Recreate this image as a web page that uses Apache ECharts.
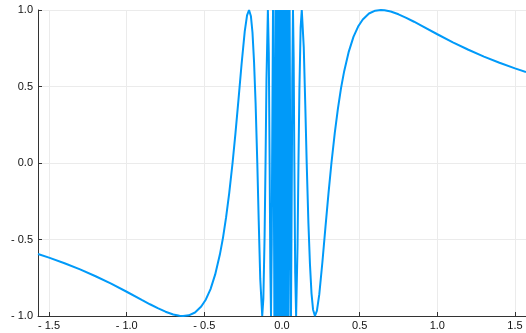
<!DOCTYPE html>
<html>
<head>
<meta charset="utf-8">
<script src="https://cdn.jsdelivr.net/npm/echarts@6/dist/echarts.min.js"></script>
<style>
  html, body { margin: 0; padding: 0; background: #fff; }
  #chart { width: 526px; height: 333px; }
</style>
</head>
<body>
<div id="chart"></div>
<script>
// curve, left branch (x < 0)
const leftX = [-1.5708, -1.5, -1.4, -1.3, -1.2, -1.1, -1.0, -0.9, -0.85, -0.8, -0.75, -0.7, -0.66, -0.6366,
  -0.6, -0.56, -0.52, -0.49, -0.46, -0.43, -0.40, -0.38, -0.36, -0.34, -0.3183, -0.30, -0.28, -0.26, -0.24,
  -0.225, -0.2122, -0.20, -0.19, -0.18, -0.17, -0.159, -0.15, -0.14, -0.1273, -0.12, -0.112, -0.106, -0.1,
  -0.0909, -0.085, -0.0796, -0.075, -0.0707, -0.066, -0.0637, -0.0579, -0.0531, -0.049];
const leftY = [-0.5944, -0.6184, -0.6551, -0.6957, -0.7402, -0.7890, -0.8415, -0.8961, -0.9233, -0.9490, -0.9719, -0.9899, -0.9985, -1,
  -0.9954, -0.9769, -0.9384, -0.8918, -0.8242, -0.7281, -0.5985, -0.4891, -0.3558, -0.1984, 0, 0.1906, 0.4155, 0.6487, 0.8589,
  0.9643, 1, 0.9589, 0.8531, 0.6622, 0.3918, 0, -0.3742, -0.7577, -1, -0.8874, -0.4759, 0, 0.5440,
  1, 0.7188, 0, -0.6940, -1, -0.5284, 0, 1, 0, -1];

// dense band around zero
const coreX = [-0.0424, -0.0374, -0.0335, -0.0303, -0.0277, -0.0255, -0.0236, -0.0220, -0.0205, -0.0193, -0.0182,
  -0.0172, -0.0163, -0.0155, -0.0148, -0.0142, -0.0136, -0.0130, -0.0125, -0.0120, -0.0116, -0.0112, -0.0108,
  -0.0104, -0.008, -0.006, -0.004, -0.002, 0.002, 0.004, 0.006, 0.008, 0.0104, 0.0108, 0.0112, 0.0116, 0.0120,
  0.0125, 0.0130, 0.0136, 0.0142, 0.0148, 0.0155, 0.0163, 0.0172, 0.0182, 0.0193, 0.0205, 0.0220, 0.0236,
  0.0255, 0.0277, 0.0303, 0.0335, 0.0374, 0.0424];
const coreY = [1, -1, 1, -1, 1, -1, 1, -1, 1, -1, 1,
  -1, 1, -1, 1, -1, 1, -1, 1, -1, 1, -1, 1,
  -1, 1, -1, 1, -1, 1, -1, 1, -1, 1, -1, 1, -1, 1,
  -1, 1, -1, 1, -1, 1, -1, 1, -1, 1, -1, 1, -1,
  1, -1, 1, -1, 1, -1];

// right branch (x > 0)
const rightX = [0.049, 0.0531, 0.0579, 0.0637, 0.066, 0.0707, 0.075, 0.0796, 0.085, 0.0909, 0.1, 0.106, 0.112,
  0.12, 0.1273, 0.14, 0.15, 0.159, 0.17, 0.18, 0.19, 0.20, 0.2122, 0.225, 0.24, 0.26, 0.28, 0.30, 0.3183,
  0.34, 0.36, 0.38, 0.40, 0.43, 0.46, 0.49, 0.52, 0.56, 0.6, 0.6366, 0.66, 0.7, 0.75, 0.8, 0.85, 0.9, 1.0,
  1.1, 1.2, 1.3, 1.4, 1.5, 1.5708];
const rightY = [1, 0, -1, 0, 0.5284, 1, 0.6940, 0, -0.7188, -1, -0.5440, 0, 0.4759,
  0.8874, 1, 0.7577, 0.3742, 0, -0.3918, -0.6622, -0.8531, -0.9589, -1, -0.9643, -0.8589, -0.6487, -0.4155, -0.1906, 0,
  0.1984, 0.3558, 0.4891, 0.5985, 0.7281, 0.8242, 0.8918, 0.9384, 0.9769, 0.9954, 1, 0.9985, 0.9899, 0.9719, 0.9490, 0.9233, 0.8961, 0.8415,
  0.7890, 0.7402, 0.6957, 0.6551, 0.6184, 0.5944];

const xTicks = [-1.5, -1.0, -0.5, 0.0, 0.5, 1.0, 1.5];

const xs = leftX.concat(coreX, rightX);
const ys = leftY.concat(coreY, rightY);
const points = xs.map((x, i) => [x, ys[i]]);

const fmt = v => (v < 0 ? '- ' + Math.abs(v).toFixed(1) : v.toFixed(1));

const axisColor = '#333';
const gridColor = '#ebebeb';

const chart = echarts.init(document.getElementById('chart'));
chart.setOption({
  animation: false,
  grid: { left: 38, top: 10, width: 492, height: 306 },
  xAxis: {
    type: 'value',
    min: -1.5708,
    max: 1.5708,
    axisLine: { onZero: false, lineStyle: { color: axisColor, width: 1 } },
    axisTick: { inside: true, length: 4, customValues: xTicks, lineStyle: { color: axisColor } },
    axisLabel: {
      customValues: xTicks, formatter: fmt, color: '#111',
      fontFamily: 'Liberation Sans', fontSize: 11, margin: 4
    },
    splitLine: { show: true, lineStyle: { color: gridColor, width: 1 } }
  },
  yAxis: {
    type: 'value',
    min: -1,
    max: 1,
    interval: 0.5,
    axisLine: { show: true, onZero: false, lineStyle: { color: axisColor, width: 1 } },
    axisTick: { show: true, inside: true, length: 4, lineStyle: { color: axisColor } },
    axisLabel: {
      formatter: fmt, color: '#111',
      fontFamily: 'Liberation Sans', fontSize: 11, margin: 5
    },
    splitLine: { show: true, lineStyle: { color: gridColor, width: 1 } }
  },
  series: [{
    type: 'line',
    data: points,
    showSymbol: false,
    smooth: false,
    lineStyle: { color: '#009af9', width: 2 },
    itemStyle: { color: '#009af9' }
  }]
});
</script>
</body>
</html>
